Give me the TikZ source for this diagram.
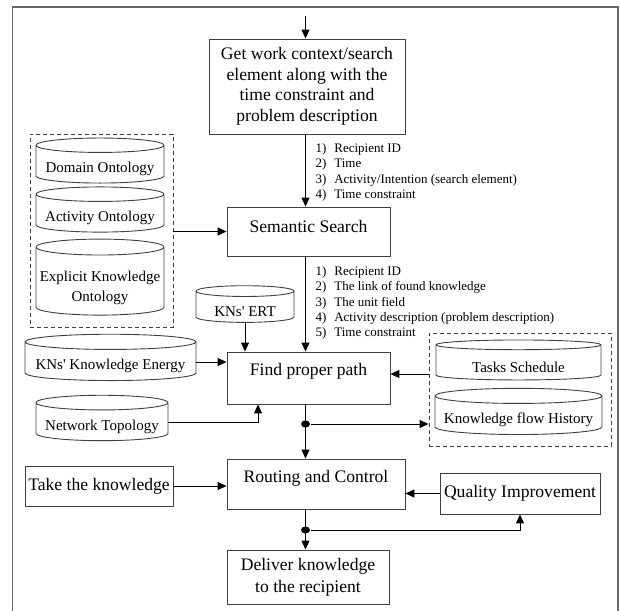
\documentclass[tikz,border=0pt]{standalone}
\usepackage{fontspec}
\setmainfont{Liberation Serif}
\usetikzlibrary{arrows.meta,shapes.geometric}

\tikzset{
  box/.style={draw=black!75, line width=0.9pt, inner sep=2pt, align=center,
    font=\fontsize{17.6}{20.5}\selectfont},
  db/.style={cylinder, shape border rotate=90, draw=black!75, line width=0.9pt,
    inner sep=1pt, align=center, aspect=#1, text height=19pt, font=\fontsize{15}{20}\selectfont},
  db/.default=0.13,
  grp/.style={draw=black!75, line width=0.9pt, dash pattern=on 4pt off 3pt},
  lst/.style={inner sep=0pt, align=left, font=\fontsize{13}{15.4}\selectfont},
  dot/.style={ellipse, fill, inner sep=0pt, minimum width=9pt, minimum height=7pt}
}

\begin{document}
\begin{tikzpicture}[x=1pt, y=1pt, line width=1pt, >={Triangle[length=9pt,width=8pt]}]
  \useasboundingbox (0,0) rectangle (620,-610);
  \draw[black!60, line width=1.4pt] (12.7,-615) -- (12.7,-7) -- (618,-7) -- (618,-615);

  % main column
  \node[box, minimum width=196pt, minimum height=95pt] (get) at (307,-86.5)
    {Get work context/search\\element along with the\\time constraint and\\problem description};
  \node[box, minimum width=163pt, minimum height=49pt, text depth=11pt] (sem) at (308.5,-231.5) {Semantic Search};
  \node[box, minimum width=163pt, minimum height=52pt, text depth=18pt] (find) at (308.5,-378) {Find proper path};
  \node[box, minimum width=178pt, minimum height=50pt, text depth=16pt] (rout) at (316,-484) {Routing and Control};
  \node[box, minimum width=162pt, minimum height=54pt, font=\fontsize{17.6}{22}\selectfont] (del) at (308,-577)
    {Deliver knowledge\\to the recipient};
  \node[box, minimum width=148pt, minimum height=40pt] (take) at (99,-486) {Take the knowledge};
  \node[box, minimum width=160pt, minimum height=41pt] (qual) at (520,-493.5) {Quality Improvement};

  % ontologies
  \node[grp, minimum width=143pt, minimum height=193pt] (ont) at (101.5,-230.5) {};
  \node[db, minimum width=128pt, minimum height=42pt] (dom) at (100,-165) {Domain Ontology};
  \node[db, minimum width=128pt, minimum height=42pt] (act) at (100,-214) {Activity Ontology};
  \node[db, minimum width=128pt, minimum height=76pt, text height=42pt] (expl) at (100,-282)
    {Explicit Knowledge\\Ontology};

  % inputs of find proper path
  \node[db=0.17, minimum width=98pt, minimum height=35pt] (ert) at (245,-307.5) {KNs\textquotesingle{} ERT};
  \node[db=0.1, minimum width=171pt, minimum height=42pt] (energy) at (110.5,-362)
    {KNs\textquotesingle{} Knowledge Energy};
  \node[db=0.127, minimum width=132pt, minimum height=45pt] (net) at (102,-422.5) {Network Topology};
  \node[grp, minimum width=182pt, minimum height=113pt] (hist) at (520,-389.5) {};
  \node[db=0.103, minimum width=165pt, minimum height=40pt] (tasks) at (518.5,-363) {Tasks Schedule};
  \node[db=0.1, minimum width=167pt, minimum height=42pt] (kfh) at (518.5,-416) {Knowledge flow History};

  % passed data
  \node[lst, anchor=west] (in1) at (315,-172.5) {\begin{tabular}{@{}l@{\hspace{8pt}}l@{}}
    1) & Recipient ID\\ 2) & Time\\ 3) & Activity/Intention (search element)\\ 4) & Time constraint
    \end{tabular}};
  \node[lst, anchor=west] (in2) at (315,-303) {\begin{tabular}{@{}l@{\hspace{8pt}}l@{}}
    1) & Recipient ID\\ 2) & The link of found knowledge\\ 3) & The unit field\\
    4) & Activity description (problem description)\\ 5) & Time constraint
    \end{tabular}};

  % connectors
  \coordinate (top) at (305.5,-16);
  \coordinate (spine) at (305.5,0);
  \draw[->] (top) -- (spine |- get.north);
  \draw[->] (spine |- get.south) -- (spine |- sem.north);
  \draw[->] (ont.east |- sem.west) -- (sem.west);
  \draw[->] (spine |- sem.south) -- (spine |- find.north);
  \draw[->] (ert.south) -- (ert.south |- find.north);
  \draw[->] (energy.east) -- (energy.east -| find.west);
  \draw[->] (net.east) -| ([xshift=-50.5pt]find.south);
  \draw[<-] ([yshift=4pt]find.east) -- ([yshift=4pt]find.east -| hist.west);
  \node[dot] (j1) at (305.5,-424) {};
  \draw[->] (spine |- find.south) -- (spine |- rout.north);
  \draw[->] (j1) -- (j1 -| hist.west);
  \draw[->] (take) -- (take -| rout.west);
  \draw[->] (qual) -- (qual -| rout.east);
  \node[dot] (j2) at (305.5,-530) {};
  \draw[->] (spine |- rout.south) -- (spine |- del.north);
  \draw[->] (j2) -| (qual.south);
\end{tikzpicture}
\end{document}
